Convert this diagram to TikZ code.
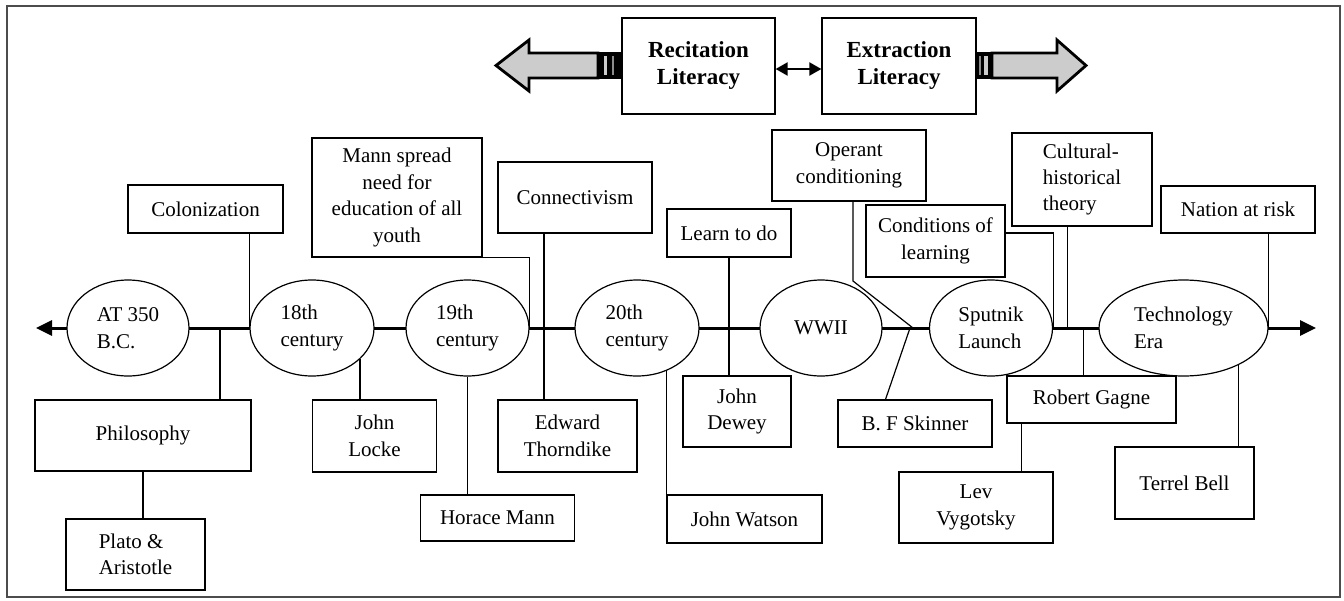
\documentclass[tikz,border=0pt]{standalone}
\usepackage{fontspec}
\setmainfont{Liberation Serif}
\usetikzlibrary{shapes.geometric,arrows.meta,calc}
\tikzset{
  tlTip/.tip={Triangle[length=8pt,width=7.5pt]},
  smTip/.tip={Triangle[length=6pt,width=6.5pt]}
}
\begin{document}
\begin{tikzpicture}[x=0.5pt,y=-0.5pt,
  every node/.style={font=\fontsize{10.5}{13.2}\selectfont},
  box/.style={draw, line width=0.6pt, fill=white, align=center, inner sep=0pt},
  era/.style={ellipse, draw, line width=0.6pt, fill=white, align=left, inner sep=0pt, minimum height=48pt},
  lnk/.style={line width=0.6pt},
  topbox/.style={draw, line width=0.6pt, align=center, inner sep=0pt, minimum height=48pt, font=\fontsize{11.5}{13.5}\selectfont\bfseries},
  fat/.style={draw, line width=1.4pt, fill=black!20, line join=miter}
]
\useasboundingbox (0,0) rectangle (1344,600);
\draw[black!70, line width=0.6pt] (7,6) rectangle (1340,597);

% top boxes and arrows
\node[topbox, minimum width=76.5pt] (rec) at (698.5,66) {Recitation\\Literacy};
\node[topbox, minimum width=77pt] (ext) at (899,66) {Extraction\\Literacy};
\draw[line width=1pt, {smTip}-{smTip}] ([yshift=-1.5pt]rec.east) -- ([yshift=-1.5pt]ext.west);

\draw[fat] (598,53) -- (529,53) -- (529,40) -- (496,65.5) -- (529,91) -- (529,78) -- (598,78) -- cycle;
\fill[black] (598,51.6) rectangle (622,79.4);
\fill[black!20] (603.5,56) rectangle (607,75);
\fill[black!45] (612,56) rectangle (613.5,75);

\draw[fat] (992,53) -- (1057,53) -- (1057,40) -- (1086,65.5) -- (1057,91) -- (1057,78) -- (992,78) -- cycle;
\fill[black] (975.5,51.6) rectangle (993,79.4);
\fill[black!20] (984,56) rectangle (987.5,75);
\fill[black!45] (979,56) rectangle (980.5,75);

% timeline
\coordinate (tlL) at (36,328);
\coordinate (tlR) at (1316,328);
\draw[line width=1.5pt, {tlTip}-{tlTip}] (tlL) -- (tlR);

\node[era, minimum width=61pt] (bc) at (128,328) {AT 350\\B.C.};
\node[era, minimum width=62pt] (c18) at (312,328) {18th\\century};
\node[era, minimum width=61.5pt] (c19) at (467.5,328) {19th\\century};
\node[era, minimum width=62pt] (c20) at (637,328) {20th\\century};
\node[era, minimum width=61pt] (ww) at (821,328) {WWII};
\node[era, minimum width=61.5pt] (sput) at (991,328) {Sputnik\\Launch};
\node[era, minimum width=84.5pt] (tech) at (1183.5,328) {Technology\\Era};

% boxes above
\node[box, minimum width=77.5pt, minimum height=24pt] (colon) at (205.5,209) {Colonization};
\node[box, minimum width=85pt, minimum height=59.5pt] (mann) at (397,197.5) {Mann spread\\need for\\education of all\\youth};
\node[box, minimum width=77pt, minimum height=35.5pt] (conn) at (575,197.5) {Connectivism};
\node[box, minimum width=62pt, minimum height=24pt] (learn) at (729,233) {Learn to do};
\node[box, minimum width=77pt, minimum height=35.5pt] (oper) at (849,165.5) {Operant\\conditioning};
\node[box, minimum width=69.5pt, minimum height=36pt] (cond) at (935.5,241) {Conditions of\\learning};
\node[box, minimum width=70pt, minimum height=46.5pt, align=left] (cult) at (1082,179.5) {Cultural-\\historical\\theory};
\node[box, minimum width=77pt, minimum height=23.5pt] (nation) at (1238,209.5) {Nation at risk};

% boxes below
\node[box, minimum width=108pt, minimum height=35.5pt] (phil) at (143,435.5) {Philosophy};
\node[box, minimum width=69.5pt, minimum height=35.5pt, align=left] (plato) at (135.5,554.5) {Plato \&\\Aristotle};
\node[box, minimum width=62pt, minimum height=36pt] (locke) at (374.5,436) {John\\Locke};
\node[box, minimum width=77pt, minimum height=23pt] (hmann) at (497.5,518) {Horace Mann};
\node[box, minimum width=69.5pt, minimum height=36pt] (thorn) at (567.5,436) {Edward\\Thorndike};
\node[box, minimum width=77.5pt, minimum height=24pt] (watson) at (744.5,519) {John Watson};
\node[box, minimum width=54pt, minimum height=35.5pt] (dewey) at (737,411.5) {John\\Dewey};
\node[box, minimum width=77pt, minimum height=23.5pt] (skin) at (915,423.5) {B. F Skinner};
\node[box, minimum width=84.5pt, minimum height=23.5pt] (gagne) at (1091.5,399.5) {Robert Gagne};
\node[box, minimum width=77pt, minimum height=35.5pt] (vyg) at (976,507.5) {Lev\\Vygotsky};
\node[box, minimum width=69.5pt, minimum height=36pt] (bell) at (1184.5,483) {Terrel Bell};

% connectors
\draw[lnk] (colon.south -| c18.west) -- (c18.west);
\coordinate (tphil) at (220,328);
\draw[lnk] (tphil) -- (tphil |- phil.north);
\draw[lnk] (phil.south) -- (phil.south |- plato.north);
\draw[lnk] (c18.-33) -- (c18.-33 |- locke.north);
\draw[lnk] (c19.south) -- (c19.south |- hmann.north);
\draw[lnk] (mann.south east) -- (c19.east |- mann.south east) -- (c19.east);
\coordinate (tconn) at (544,328);
\draw[lnk] (tconn |- conn.south) -- (tconn |- thorn.north);
\draw[lnk] (watson.north west) -- (watson.north west |- c20.-54);
\draw[lnk] (learn.south) -- (learn.south |- dewey.north);
\coordinate (obend) at (853,281);
\coordinate (ojoin) at (913,328);
\draw[lnk] (obend |- oper.south) -- (obend) -- (ojoin);
\coordinate (sjoin) at (910,328);
\draw[lnk] ($(skin.north west)!0.31!(skin.north east)$) -- (sjoin);
\draw[lnk] ($(cond.north east)!0.39!(cond.south east)$) coordinate (cj) -- (cj -| sput.east) -- (sput.east);
\draw[lnk] ($(cult.south west)!0.4!(cult.south east)$) coordinate (cu) -- (cu |- tlR);
\draw[lnk] ($(gagne.north west)!0.455!(gagne.north east)$) coordinate (ga) -- (ga |- tlR);
\draw[lnk] ($(gagne.south west)!0.09!(gagne.south east)$) coordinate (gv) -- (gv |- vyg.north);
\draw[lnk] (nation.south -| tech.east) -- (tech.east);
\draw[lnk] (tech.-34) -- (tech.-34 |- bell.north);
\end{tikzpicture}
\end{document}
